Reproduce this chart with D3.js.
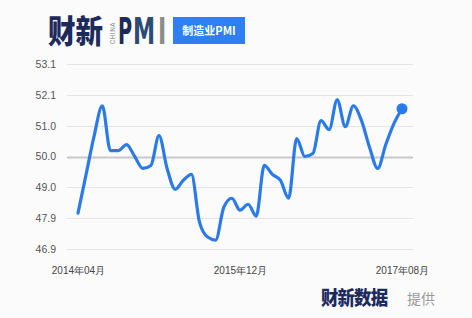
<!DOCTYPE html>
<html>
<head>
<meta charset="utf-8">
<script src="https://cdn.jsdelivr.net/npm/d3@7/dist/d3.min.js"></script>
<style>
  body { margin: 0; background: #fbfbfc; }
  svg { display: block; font-family: "Noto Sans CJK SC", "Noto Sans", sans-serif; }
</style>
</head>
<body>
<div id="pmi-chart"></div>
<script>
// 财新中国制造业PMI, 2014年04月 - 2017年08月
var months = [];
for (var i = 0; i < 41; i++) months.push(new Date(2014, 3 + i, 1));

var pmiValues = [
  48.1, 49.4, 50.7, 51.7, 50.2, 50.2, 50.4, 50.0, 49.6,
  49.7, 50.7, 49.6, 48.9, 49.2, 49.4, 47.8, 47.3, 47.2, 48.3, 48.6, 48.2,
  48.4, 48.0, 49.7, 49.4, 49.2, 48.6, 50.6, 50.0, 50.1, 51.2, 50.9, 51.9,
  51.0, 51.7, 51.2, 50.3, 49.6, 50.4, 51.1, 51.6
];

var xTickLabels = ["2014年04月", "2015年12月", "2017年08月"];
var xTickIndex = [0, 20, 40];
var yDomain = [46.9, 53.1];

var width = 472, height = 318;
var margin = {top: 64, right: 59, bottom: 69, left: 67};

var svg = d3.select("#pmi-chart").append("svg")
  .attr("width", width)
  .attr("height", height);

var xScale = d3.scaleLinear()
  .domain([0, months.length - 1])
  .range([78, 402]);

var yScale = d3.scaleLinear()
  .domain(yDomain)
  .range([height - margin.bottom, margin.top]);

var yTicks = d3.range(7).map(function(i) {
  return yDomain[0] + i * (yDomain[1] - yDomain[0]) / 6;
});

// grid
var grid = svg.append("g").attr("class", "grid");
grid.selectAll("line")
  .data(yTicks)
  .enter().append("line")
  .attr("x1", margin.left)
  .attr("x2", width - margin.right)
  .attr("y1", d => Math.round(yScale(d)) + 0.5)
  .attr("y2", d => Math.round(yScale(d)) + 0.5)
  .attr("stroke", d => Math.abs(d - 50) < 0.01 ? "#c8c8c8" : "#e4e4e4")
  .attr("stroke-width", d => Math.abs(d - 50) < 0.01 ? 2 : 1.2);

// y axis
var yAxis = d3.axisLeft(yScale)
  .tickValues(yTicks)
  .tickFormat(d3.format(".1f"))
  .tickSize(0)
  .tickPadding(6);

svg.append("g")
  .attr("class", "y-axis")
  .attr("transform", "translate(" + 62 + ",0)")
  .call(yAxis)
  .call(g => g.select(".domain").remove())
  .selectAll("text")
  .attr("fill", "#555")
  .style("font-size", "10.5px");

// x axis
var xAxis = d3.axisBottom(xScale)
  .tickValues(xTickIndex)
  .tickFormat((d, i) => xTickLabels[i])
  .tickSize(0)
  .tickPadding(0);

svg.append("g")
  .attr("class", "x-axis")
  .attr("transform", "translate(0,267)")
  .call(xAxis)
  .call(g => g.select(".domain").remove())
  .selectAll("text")
  .attr("fill", "#444")
  .style("font-size", "10px");

// line
var lineGenerator = d3.line()
  .x((d, i) => xScale(i))
  .y(d => yScale(d))
  .curve(d3.curveMonotoneX);

svg.append("path")
  .datum(pmiValues)
  .attr("d", lineGenerator)
  .attr("fill", "none")
  .attr("stroke", "#2a7be8")
  .attr("stroke-width", 3.2)
  .attr("stroke-linejoin", "round")
  .attr("stroke-linecap", "round");

var last = pmiValues.length - 1;
svg.append("circle")
  .attr("cx", xScale(last))
  .attr("cy", yScale(pmiValues[last]))
  .attr("r", 5.5)
  .attr("fill", "#2a7be8");

// header logo
var logo = svg.append("g").attr("class", "logo");
logo.append("text")
  .attr("x", 48).attr("y", 43)
  .attr("textLength", 55)
  .attr("lengthAdjust", "spacingAndGlyphs")
  .attr("fill", "#1d2a5c")
  .style("font-size", "32px")
  .style("font-weight", 900)
  .text("财新");
logo.append("text")
  .attr("transform", "translate(115,44) rotate(-90)")
  .attr("fill", "#8a8f9a")
  .style("font-family", "Roboto, sans-serif")
  .style("font-size", "6.5px")
  .style("letter-spacing", "0.5px")
  .text("CHINA");

// P, M, I drawn separately, squeezed horizontally
var pmiLetters = [
  {ch: "P", x: 118, sx: 0.52, color: "#1d2a5c"},
  {ch: "M", x: 133, sx: 0.6, color: "#2c4c74"},
  {ch: "I", x: 158, sx: 0.6, color: "#8c8c8c"}
];
logo.selectAll(".pmi-letter")
  .data(pmiLetters)
  .enter().append("text")
  .attr("class", "pmi-letter")
  .attr("transform", d => "translate(" + d.x + ",44) scale(" + d.sx + ",1)")
  .attr("fill", d => d.color)
  .style("font-family", "'DejaVu Sans', sans-serif")
  .style("font-size", "37px")
  .style("font-weight", 700)
  .text(d => d.ch);

logo.append("rect")
  .attr("x", 173).attr("y", 17)
  .attr("width", 72).attr("height", 27)
  .attr("fill", "#2f7ff0");
logo.append("text")
  .attr("x", 209).attr("y", 35)
  .attr("text-anchor", "middle")
  .attr("fill", "#fff")
  .style("font-size", "11px")
  .style("font-weight", 700)
  .text("制造业PMI");

// footer
svg.append("text")
  .attr("transform", "translate(321,305) scale(0.92,1)")
  .attr("fill", "#1d2a5c")
  .style("font-size", "19px")
  .style("font-weight", 900)
  .style("letter-spacing", "-1px")
  .text("财新数据");
svg.append("text")
  .attr("x", 407).attr("y", 304)
  .attr("fill", "#9a9a9a")
  .style("font-size", "14px")
  .text("提供");
</script>
</body>
</html>
